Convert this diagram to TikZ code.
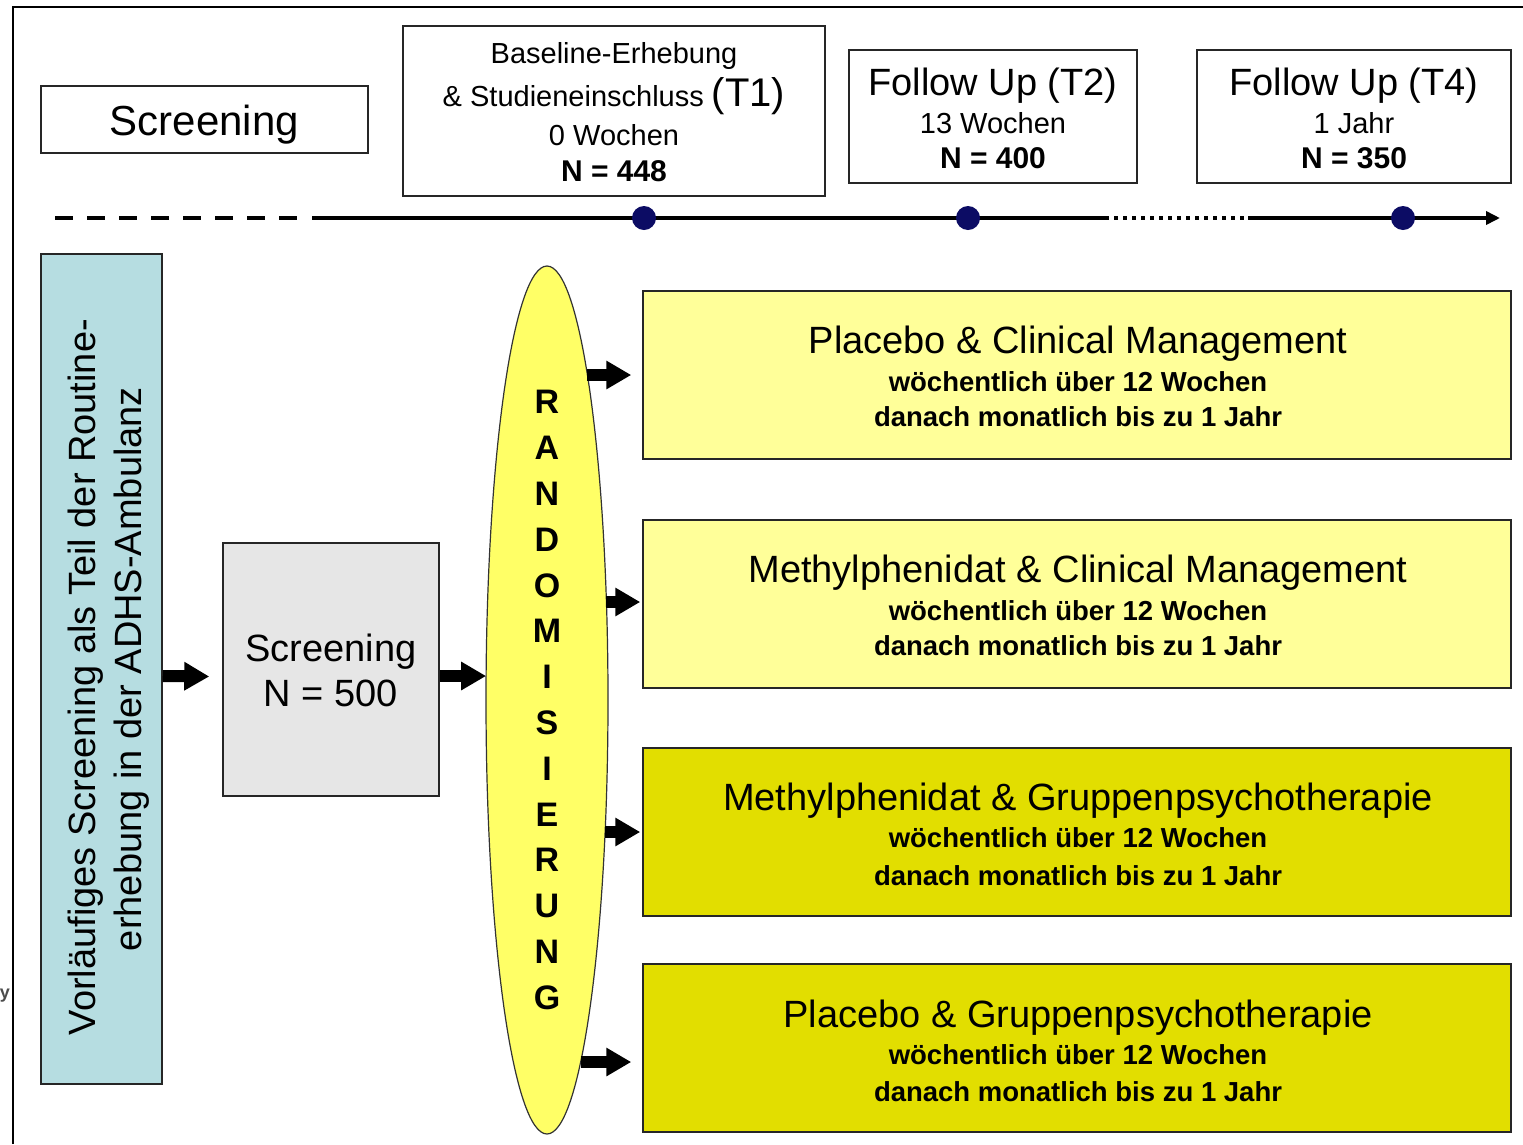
\documentclass[tikz,border=0pt]{standalone}
\usepackage{fontspec}
\setmainfont{Liberation Sans}
\usetikzlibrary{arrows.meta,shapes.geometric,calc}
\definecolor{lblue}{RGB}{182,221,225}
\definecolor{lgray}{RGB}{230,230,230}
\definecolor{ellyel}{RGB}{255,255,102}
\definecolor{lyel}{RGB}{255,255,153}
\definecolor{dyel}{RGB}{226,222,0}
\definecolor{navy}{RGB}{12,12,100}
\newcommand{\fsz}[1]{\fontsize{#1}{#1}\selectfont}
\begin{document}
\begin{tikzpicture}[x=1pt,y=-1pt,
  box/.style={draw=black!85,line width=1.5pt,inner sep=0pt},
  txt/.style={inner sep=0pt,anchor=base},
  tline/.style={line width=4pt,black},
  dot/.style={circle,fill=navy,minimum size=24pt,inner sep=0pt},
  blk/.style={line width=12pt,-{Triangle[length=25pt,width=27pt]}},
  tbox/.style={box,minimum width=868pt,minimum height=168pt},
  ttl/.style={txt,font=\fsz{38}},
  sub/.style={txt,font=\bfseries\fsz{27.5}}
]
\useasboundingbox (0,0) rectangle (1523,1144);
\fill[white] (0,0) rectangle (1523,1144);
\draw[line width=2.5pt] (13,1144) -- (13,7) -- (1523,7);

% top header boxes
\node[box,minimum width=327pt,minimum height=67pt] (scrtop) at (204.5,119.5) {};
\node[txt,font=\fsz{42}] (scrtopt) at (204.5,135) {Screening};

\node[box,minimum width=422pt,minimum height=170pt] (base) at (614,111) {};
\node[txt,font=\fsz{29}] (base1) at (614,63.5) {Baseline-Erhebung};
\node[txt,font=\fsz{29}] (base2) at (614,106) {\& Studieneinschluss {\fsz{40}(T1)}};
\node[txt,font=\fsz{29}] (base3) at (614,145.5) {0 Wochen};
\node[txt,font=\bfseries\fsz{30}] (base4) at (614,181) {N = 448};

\node[box,minimum width=288pt,minimum height=133pt] (t2) at (993,116.5) {};
\node[txt,font=\fsz{38}] (t2a) at (993,95.5) {Follow Up (T2)};
\node[txt,font=\fsz{29}] (t2b) at (993,133.5) {13 Wochen};
\node[txt,font=\bfseries\fsz{30}] (t2c) at (993,168) {N = 400};

\node[box,minimum width=314pt,minimum height=133pt] (t4) at (1354,116.5) {};
\node[txt,font=\fsz{38}] (t4a) at (1354,95.5) {Follow Up (T4)};
\node[txt,font=\fsz{29}] (t4b) at (1354,133.5) {1 Jahr};
\node[txt,font=\bfseries\fsz{30}] (t4c) at (1354,168) {N = 350};

% timeline
\coordinate (tl0) at (55,218);
\coordinate (tl1) at (300,218);
\coordinate (tl2) at (312,218);
\coordinate (tl3) at (1105,218);
\coordinate (tl4) at (1248,218);
\coordinate (tl5) at (1500,218);
\draw[tline,dash pattern=on 18pt off 14pt] (tl0) -- (tl1);
\draw[tline] (tl2) -- (tl3);
\draw[tline,line width=3.5pt,dash pattern=on 4pt off 5pt] (tl3) -- (tl4);
\draw[tline,-{Triangle[length=14pt,width=13pt]}] (tl4) -- (tl5);
\node[dot] (d1) at (644,218) {};
\node[dot] (d2) at (968,218) {};
\node[dot] (d3) at (1403,218) {};

% left column
\node[box,fill=lblue,minimum width=121pt,minimum height=830pt] (blue) at (101.5,669) {};
\node[txt,rotate=90,font=\fsz{38}] (blue1) at (95,677) {Vorläufiges Screening als Teil der Routine-};
\node[txt,rotate=90,font=\fsz{38}] (blue2) at (141,669) {erhebung in der ADHS-Ambulanz};

\node[box,fill=lgray,minimum width=216pt,minimum height=253pt] (scr2) at (331,669.5) {};
\node[txt,font=\fsz{38}] (scr2a) at (331,661.6) {Screening};
\node[txt,font=\fsz{38}] (scr2b) at (331,706.6) {N = 500};

% ellipse
\node[draw=black!80,line width=1.2pt,fill=ellyel,ellipse,minimum width=122pt,minimum height=868pt,inner sep=0pt] (ell) at (547,700) {};
\node[font=\bfseries\fontsize{34}{45.8}\selectfont,align=center,inner sep=0pt] (rand) at (547,700)
  {R\\A\\N\\D\\O\\M\\I\\S\\I\\E\\R\\U\\N\\G};

% treatment boxes
\node[tbox,fill=lyel] (b1) at (1077,375) {};
\node[ttl] (b1a) at (1078,353.6) {Placebo \& Clinical Management};
\node[sub] (b1b) at (1078,391) {wöchentlich über 12 Wochen};
\node[sub] (b1c) at (1078,426) {danach monatlich bis zu 1 Jahr};

\node[tbox,fill=lyel] (b2) at (1077,604) {};
\node[ttl] (b2a) at (1078,582) {Methylphenidat \& Clinical Management};
\node[sub] (b2b) at (1078,620) {wöchentlich über 12 Wochen};
\node[sub] (b2c) at (1078,655) {danach monatlich bis zu 1 Jahr};

\node[tbox,fill=dyel] (b3) at (1077,832) {};
\node[ttl] (b3a) at (1078,810.6) {Methylphenidat \& Gruppenpsychotherapie};
\node[sub] (b3b) at (1078,847) {wöchentlich über 12 Wochen};
\node[sub] (b3c) at (1078,885) {danach monatlich bis zu 1 Jahr};

\node[tbox,fill=dyel] (b4) at (1077,1048) {};
\node[ttl] (b4a) at (1078,1027.6) {Placebo \& Gruppenpsychotherapie};
\node[sub] (b4b) at (1078,1064) {wöchentlich über 12 Wochen};
\node[sub] (b4c) at (1078,1101) {danach monatlich bis zu 1 Jahr};

% arrows
\draw[blk] ($(blue.east)+(0,7)$) -- ($(scr2.west)+(-13,7)$);
\draw[blk] ($(scr2.east)+(0,6.5)$) -- ($(ell.center)+(-60.9,-24)$);
\draw[blk] ($(ell.center)+(40.4,-325)$) -- ($(b1.west)+(-11,0)$);
\draw[blk] ($(ell.center)+(59.4,-98)$) -- ($(b2.west)+(-2,-2)$);
\draw[blk] ($(ell.center)+(58.1,132)$) -- ($(b3.west)+(-2,0)$);
\draw[blk] ($(ell.center)+(33.6,362)$) -- ($(b4.west)+(-11,14)$);

\node[font=\bfseries\fsz{18},text=black!70,inner sep=0pt] (stray) at (5,996) {y};
\end{tikzpicture}
\end{document}
